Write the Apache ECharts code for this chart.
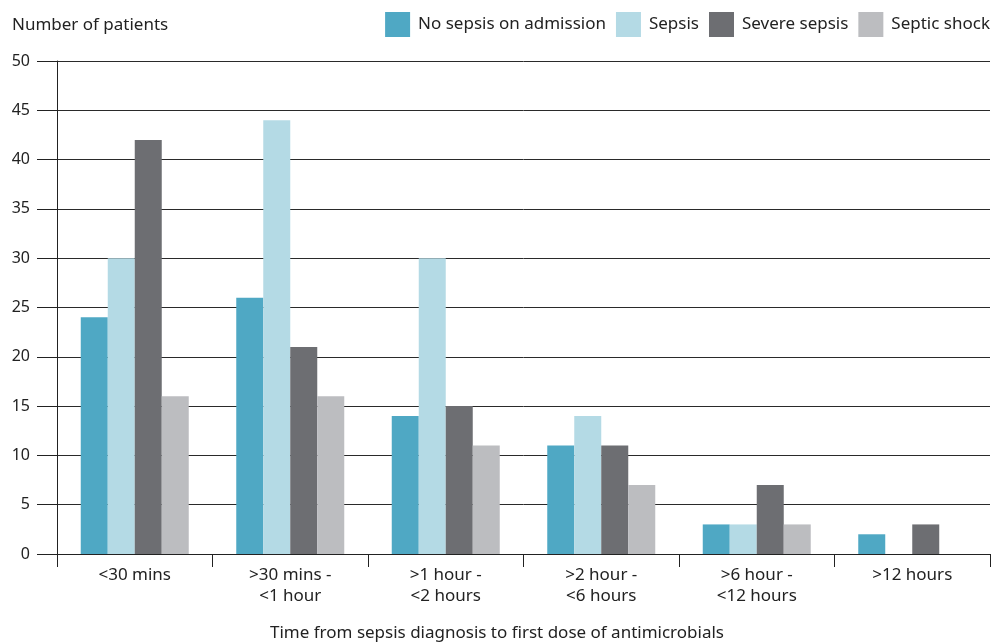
<!DOCTYPE html>
<html>
<head>
<meta charset="utf-8">
<script src="https://cdn.jsdelivr.net/npm/echarts@6/dist/echarts.min.js"></script>
<style>html,body{margin:0;padding:0;background:#fff;}#c{width:992px;height:644px;}</style>
</head>
<body>
<div id="c"></div>
<script>
const categories = ['<30 mins', '>30 mins -\n<1 hour', '>1 hour -\n<2 hours', '>2 hour -\n<6 hours', '>6 hour -\n<12 hours', '>12 hours'];
const seriesNames = ['No sepsis on admission', 'Sepsis', 'Severe sepsis', 'Septic shock'];
const noSepsis = [24, 26, 14, 11, 3, 2];
const sepsis = [30, 44, 30, 14, 3, 0];
const severeSepsis = [42, 21, 15, 11, 7, 3];
const septicShock = [16, 16, 11, 7, 3, 0];
const yTicks = [0, 5, 10, 15, 20, 25, 30, 35, 40, 45, 50];
const colors = ['#4fa8c4', '#b4dae5', '#6d6e72', '#bcbdc0'];

const FONT = '"Noto Sans", sans-serif';
const chart = echarts.init(document.getElementById('c'), null, {renderer: 'canvas'});
const dataSets = [noSepsis, sepsis, severeSepsis, septicShock];
chart.setOption({
  animation: false,
  textStyle: {fontFamily: FONT},
  color: colors,
  legend: {
    right: 2, top: 12, padding: 0,
    itemWidth: 25, itemHeight: 25, itemGap: 10,
    icon: 'rect',
    textStyle: {fontFamily: FONT, fontSize: 17, color: '#222', padding: [0, 0, 0, 3]},
    data: seriesNames
  },
  grid: {left: 57, right: 2, top: 61, bottom: 90, containLabel: false},
  xAxis: {
    type: 'category',
    data: categories,
    axisLine: {lineStyle: {color: '#222', width: 1}},
    axisTick: {show: true, length: 13, interval: 0, lineStyle: {color: '#222'}},
    axisLabel: {interval: 0, margin: 11, fontSize: 17, color: '#222', lineHeight: 21, fontFamily: FONT}
  },
  yAxis: {
    type: 'value',
    min: 0, max: 50, interval: 5,
    axisLine: {show: true, lineStyle: {color: '#222', width: 1}},
    axisTick: {show: true, length: 20, lineStyle: {color: '#222'}},
    splitLine: {show: true, lineStyle: {color: '#2a2a2a', width: 1}},
    axisLabel: {margin: 27, fontSize: 16, color: '#222', fontFamily: FONT,
      formatter: v => yTicks.includes(v) ? String(v) : ''}
  },
  series: seriesNames.map((n, i) => ({
    name: n, type: 'bar', data: dataSets[i],
    barWidth: 27, barGap: '0%',
    itemStyle: {color: colors[i]}
  })),
  graphic: [
    {type: 'text', left: 12, top: 17, style: {text: 'Number of patients', font: '17px ' + FONT, fill: '#222'}},
    {type: 'text', x: 497, y: 625, style: {text: 'Time from sepsis diagnosis to first dose of antimicrobials', font: '17px ' + FONT, fill: '#222', textAlign: 'center'}}
  ]
});
</script>
</body>
</html>
